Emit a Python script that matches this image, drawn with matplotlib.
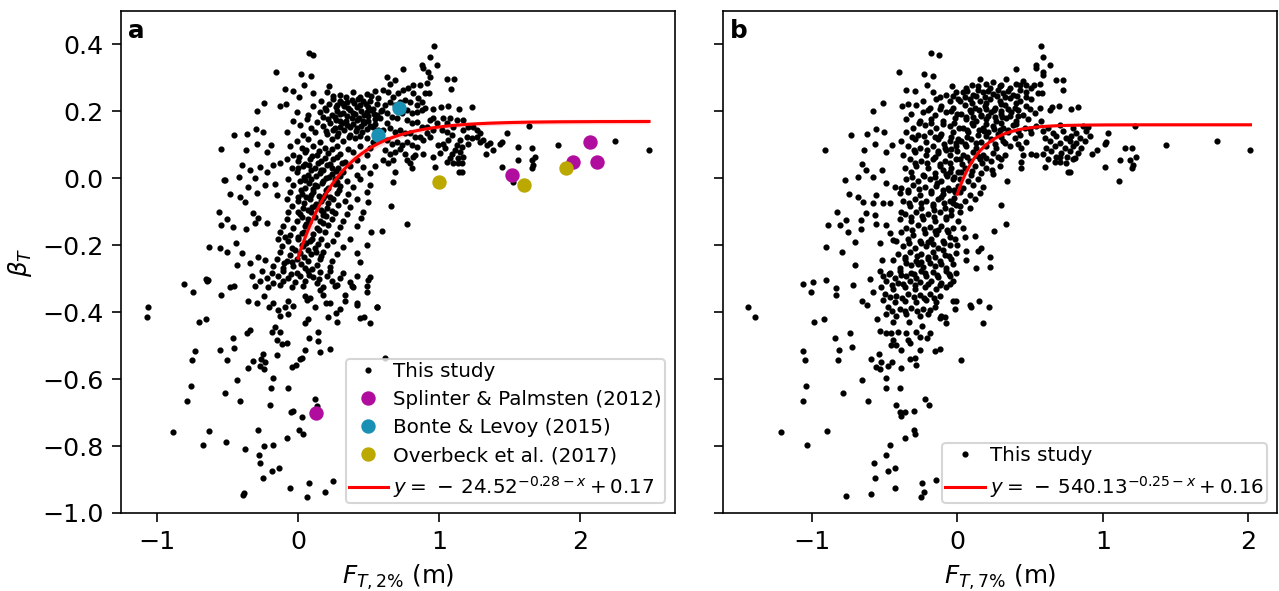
import numpy as np
import matplotlib
matplotlib.use('Agg')
import matplotlib.pyplot as plt

# ---- panel a data (F_T,2%, beta_T) ----
a_upper = [
(0.203,0.258),(0.297,0.249),(0.392,0.257),(0.487,0.251),(0.546,0.261),
(0.167,0.231),(0.25,0.238),(0.345,0.229),(0.427,0.236),(0.51,0.23),(0.569,0.239),
(0.108,0.217),(0.191,0.209),(0.274,0.218),(0.357,0.211),(0.439,0.219),(0.534,0.208),
(-0.01,0.197),(0.073,0.19),(0.156,0.198),(0.238,0.188),(0.321,0.196),(0.404,0.191),(0.487,0.199),(0.562,0.189),
(-0.034,0.171),(0.061,0.178),(0.132,0.169),(0.215,0.177),(0.297,0.171),(0.38,0.179),(0.463,0.17),(0.546,0.176),
(0.014,0.158),(0.096,0.15),(0.179,0.157),(0.262,0.149),(0.345,0.159),(0.416,0.151),(0.51,0.156),
(-0.081,0.137),(0.037,0.13),(0.12,0.138),(0.203,0.131),(0.286,0.136),(0.368,0.129),(0.451,0.139),
(-0.01,0.111),(0.073,0.118),(0.156,0.11),(0.238,0.117),(0.321,0.112),(0.404,0.119),(0.534,0.11),
(0.25,0.245),(0.34,0.243),(0.44,0.244),(0.52,0.246),(0.22,0.222),(0.31,0.224),(0.4,0.226),(0.48,0.221),
(0.56,0.223),(0.2,0.203),(0.28,0.201),(0.37,0.204),(0.45,0.2),(0.52,0.205),(0.59,0.2),(0.18,0.184),
(0.26,0.182),(0.35,0.186),(0.43,0.181),(0.5,0.185),(0.58,0.18),(0.23,0.164),(0.31,0.166),(0.39,0.162),
(0.47,0.165),(0.55,0.162),(0.25,0.143),(0.33,0.145),(0.41,0.142),(0.49,0.146),(0.57,0.144),(0.28,0.125),
(0.36,0.122),(0.44,0.126),(0.49,0.121),
(0.3,0.232),(0.38,0.234),(0.46,0.23),(0.27,0.213),(0.33,0.215),(0.42,0.212),(0.5,0.214),(0.3,0.192),
(0.39,0.194),(0.47,0.19),(0.54,0.193),(0.27,0.173),(0.34,0.172),(0.42,0.174),(0.5,0.171),(0.2,0.142),
(0.3,0.154),(0.37,0.153),(0.45,0.155),(0.53,0.152),
]
a_core = [
(-0.057,0.097),(0.026,0.09),(0.108,0.098),(0.191,0.091),(0.274,0.096),(0.357,0.089),(0.439,0.097),(0.51,0.092),
(-0.034,0.071),(0.049,0.078),(0.132,0.07),(0.215,0.077),(0.297,0.072),(0.392,0.079),(0.487,0.071),
(-0.081,0.058),(0.002,0.051),(0.085,0.057),(0.167,0.052),(0.25,0.059),(0.333,0.05),(0.416,0.056),
(-0.045,0.031),(0.037,0.038),(0.12,0.032),(0.203,0.039),(0.286,0.03),(0.368,0.037),(0.463,0.033),(0.546,0.038),
(-0.01,0.018),(0.073,0.011),(0.156,0.017),(0.238,0.012),(0.321,0.019),(0.416,0.01),(0.51,0.016),
(-0.069,-0.002),(0.014,-0.009),(0.096,-0.003),(0.179,-0.008),(0.262,-0.001),(0.345,-0.007),(0.439,-0.003),
(-0.034,-0.021),(0.049,-0.028),(0.132,-0.022),(0.215,-0.029),(0.297,-0.023),(0.392,-0.027),(0.51,-0.021),
(-0.057,-0.042),(0.026,-0.048),(0.108,-0.041),(0.191,-0.049),(0.274,-0.043),(0.357,-0.047),(0.487,-0.041),
(-0.081,-0.062),(0.002,-0.068),(0.085,-0.061),(0.167,-0.069),(0.25,-0.063),(0.333,-0.067),(0.416,-0.061),
(-0.045,-0.082),(0.037,-0.089),(0.12,-0.083),(0.203,-0.088),(0.286,-0.081),(0.368,-0.087),
(-0.069,-0.102),(0.014,-0.108),(0.096,-0.101),(0.179,-0.109),(0.262,-0.103),(0.345,-0.107),(0.463,-0.101),
(-0.081,-0.122),(-0.01,-0.128),(0.073,-0.121),(0.156,-0.129),(0.238,-0.123),(0.321,-0.127),
(-0.104,-0.141),(-0.034,-0.148),(0.049,-0.142),(0.132,-0.147),(0.215,-0.14),(0.297,-0.146),(0.416,-0.142),
(0.06,0.085),(0.15,0.083),(0.24,0.087),(0.01,0.064),(0.1,0.066),(0.19,0.062),(0.28,0.065),(0.05,0.044),
(0.14,0.046),(0.23,0.043),(0.31,0.047),(0.09,0.024),(0.18,0.026),(0.27,0.022),(0.04,0.005),(0.13,0.006),
(0.22,0.003),(0.3,0.007),(0.08,-0.015),(0.17,-0.013),(0.26,-0.017),(0.02,-0.035),(0.11,-0.033),(0.2,-0.036),
(0.29,-0.034),(0.06,-0.055),(0.15,-0.054),(0.23,-0.057),(0.04,-0.075),(0.13,-0.076),(0.21,-0.073),(0.07,-0.095),
(0.16,-0.094),(0.24,-0.097),(0.03,-0.115),(0.12,-0.116),(0.2,-0.113),(0.06,-0.135),(0.18,-0.134),
(0.0,0.03),(0.08,0.04),(0.16,0.025),(0.24,0.03),(0.05,-0.005),(0.12,-0.02),(0.2,0.0),(0.28,-0.01),
(0.0,-0.055),(0.09,-0.05),(0.18,-0.06),(0.1,-0.085),(0.18,-0.1),(0.0,-0.1),(0.08,-0.13),
]
a_tail = [
(-0.128,-0.161),(-0.057,-0.168),(0.026,-0.162),(0.108,-0.167),(0.191,-0.16),(0.274,-0.166),
(-0.14,-0.181),(-0.069,-0.188),(0.002,-0.182),(0.085,-0.187),(0.167,-0.18),(0.25,-0.186),(0.368,-0.182),
(-0.116,-0.201),(-0.045,-0.208),(0.037,-0.202),(0.12,-0.207),(0.203,-0.2),(0.321,-0.206),
(-0.128,-0.221),(-0.057,-0.228),(0.014,-0.222),(0.096,-0.227),(0.179,-0.22),(0.274,-0.226),(0.416,-0.222),
(-0.152,-0.241),(-0.081,-0.248),(-0.01,-0.242),(0.073,-0.247),(0.156,-0.24),(0.238,-0.246),
(-0.175,-0.261),(-0.104,-0.268),(-0.034,-0.262),(0.049,-0.267),(0.132,-0.26),(0.227,-0.266),
(-0.258,-0.276),(-0.187,-0.282),(-0.104,-0.277),(-0.01,-0.283),(0.073,-0.276),(0.156,-0.281),(0.227,-0.277),(0.321,-0.283),
(-0.329,-0.291),(-0.222,-0.297),(-0.14,-0.292),(-0.069,-0.298),(0.014,-0.291),(0.108,-0.296),(0.203,-0.292),(0.297,-0.297),(0.416,-0.291),(0.51,-0.296),
(-0.27,-0.306),(-0.175,-0.312),(-0.104,-0.307),(-0.021,-0.311),(0.049,-0.306),(0.132,-0.312),(0.238,-0.307),(0.368,-0.311),
(-0.305,-0.321),(-0.21,-0.326),(-0.128,-0.32),(-0.045,-0.325),(0.037,-0.321),(0.179,-0.326),(0.274,-0.32),(0.392,-0.325),(0.487,-0.321),
(-0.09,-0.174),(0.0,-0.176),(0.06,-0.194),(0.14,-0.196),(-0.02,-0.214),(0.07,-0.213),(0.16,-0.232),(-0.1,-0.254),
(0.02,-0.256),(0.1,-0.27),(-0.05,-0.286),(0.15,-0.302),
(0.15,-0.155),(0.04,-0.16),(0.1,-0.18),(0.03,-0.2),(0.13,-0.22),(0.04,-0.235),(-0.04,-0.25),(0.08,-0.29),
]
a_right = [
(0.967,0.395),(0.936,0.363),(0.984,0.339),(0.88,0.339),(0.889,0.331),(0.747,0.328),(0.924,0.318),(0.936,0.303),
(0.912,0.284),(0.865,0.279),(0.818,0.279),(0.90,0.254),(0.931,0.254),(1.055,0.296),(1.106,0.296),(1.085,0.266),
(1.236,0.214),(1.14,0.207),(1.066,0.217),(1.017,0.214),(0.96,0.207),(1.638,0.157),(1.846,0.099),(2.25,0.113),
(2.49,0.085),(1.48,0.136),(1.449,0.109),(1.43,0.104),(1.385,0.084),(1.336,0.073),(1.558,0.093),(1.657,0.09),
(1.679,0.064),(1.657,0.055),(1.562,0.055),(1.669,0.04),(1.657,0.03),(1.449,0.035),(1.527,-0.01),(0.96,0.064),
(0.97,0.035),(0.884,0.073),(0.83,0.07),(0.794,0.045),(0.806,0.03),(0.77,0.055),(0.686,0.02),(0.674,-0.01),
(0.658,-0.082),(0.77,-0.137),(0.593,-0.157),
(1.267,0.144),(1.291,0.134),(1.314,0.114),(1.243,0.154),(1.208,0.154),(1.173,0.144),(1.201,0.124),(1.149,0.114),
(1.125,0.099),(1.161,0.094),(1.114,0.084),(1.09,0.074),(1.149,0.079),(1.173,0.065),(1.137,0.06),(1.078,0.06),
(1.054,0.05),(1.097,0.047),(1.137,0.045),(1.161,0.045),(1.144,0.02),(1.161,0.02),(1.208,0.104),(1.232,0.119),
(1.267,0.124),(1.291,0.109),(1.066,0.114),(1.09,0.129),(1.054,0.139),(1.031,0.104),(1.043,0.09),(1.007,0.075),
(0.995,0.1),(1.019,0.144),(1.102,0.154),(1.054,0.164),(1.078,0.179),(1.031,0.179),(1.125,0.174),(1.173,0.174),
(0.983,0.164),(0.96,0.179),(0.936,0.174),(0.96,0.144),(0.936,0.124),(0.913,0.134),(1.338,0.099),(1.362,0.106),
(0.629,0.303),(0.652,0.283),(0.688,0.293),(0.605,0.264),(0.641,0.259),(0.676,0.244),(0.712,0.254),(0.747,0.264),
(0.783,0.269),(0.818,0.254),(0.853,0.239),(0.877,0.229),(0.842,0.219),(0.794,0.229),(0.759,0.234),(0.723,0.229),
(0.688,0.219),(0.653,0.229),(0.617,0.219),(0.593,0.204),(0.629,0.194),(0.664,0.184),(0.70,0.179),(0.735,0.194),
(0.771,0.204),(0.806,0.194),(0.842,0.199),(0.877,0.204),(0.901,0.209),(0.771,0.174),(0.806,0.164),(0.842,0.169),
(0.877,0.154),(0.913,0.154),(0.629,0.164),(0.605,0.144),(0.653,0.149),(0.688,0.139),(0.723,0.144),(0.759,0.134),
(0.794,0.134),(0.83,0.124),(0.865,0.124),(0.889,0.114),(0.629,0.114),(0.664,0.104),(0.70,0.109),(0.735,0.1),
(0.771,0.109),(0.806,0.1),(0.842,0.094),(0.617,0.084),(0.653,0.074),(0.688,0.079),(0.723,0.089),(0.759,0.074),
(0.818,0.064),(0.605,0.055),(0.641,0.045),(0.676,0.055),
]
a_left = [
(0.078,0.375),(0.104,0.369),(-0.156,0.317),(0.02,0.313),(0.09,0.306),(-0.092,0.266),(-0.035,0.261),(0.045,0.279),
(0.22,0.276),(0.106,0.254),(0.005,0.244),(-0.243,0.226),(-0.291,0.201),(-0.125,0.216),(-0.087,0.222),(-0.45,0.129),
(-0.36,0.131),(-0.30,0.146),(-0.25,0.139),(-0.548,0.087),(-0.37,0.084),(-0.29,0.104),(-0.22,0.079),(-0.19,0.099),
(-0.395,0.041),(-0.34,0.025),(-0.27,0.033),(-0.217,0.019),(-0.18,0.041),(-0.125,0.047),(-0.518,-0.005),(-0.418,0.005),
(-0.352,-0.025),(-0.307,0.0),(-0.289,-0.045),(-0.236,-0.02),(-0.165,-0.017),(-0.146,-0.05),(-0.482,-0.048),(-0.414,-0.055),
(-0.378,-0.07),(-0.562,-0.10),(-0.50,-0.122),(-0.543,-0.139),(-0.464,-0.146),(-0.317,-0.105),(-0.28,-0.119),(-0.366,-0.152),
(-0.307,-0.133),(-0.222,-0.134),(-0.631,-0.204),(-0.553,-0.209),(-0.501,-0.219),(-0.44,-0.192),(-0.40,-0.222),(-0.28,-0.234),
(-0.236,-0.244),(-0.343,-0.254),(-0.435,-0.259),(-0.652,-0.30),(-0.527,-0.005),
(0.5,-0.07),(0.49,-0.2),(0.44,-0.25),(0.45,-0.12),(0.52,-0.16),
]
a_bottom = [
(-0.806,-0.316),(-0.742,-0.341),(-0.648,-0.306),(-0.636,-0.304),(-0.548,-0.348),(-0.482,-0.325),(-0.454,-0.321),
(-1.062,-0.383),(-1.069,-0.415),(-0.704,-0.43),(-0.652,-0.419),(-0.553,-0.513),(-0.501,-0.542),(-0.452,-0.506),
(-0.459,-0.478),(-0.733,-0.516),(-0.754,-0.542),(-0.761,-0.62),(-0.785,-0.664),(-0.884,-0.759),(-0.672,-0.796),
(-0.629,-0.756),(-0.511,-0.788),(-0.516,-0.64),(-0.411,-0.664),(-0.435,-0.602),(-0.36,-0.463),(-0.34,-0.453),
(-0.352,-0.567),(-0.317,-0.547),(-0.265,-0.54),(-0.234,-0.55),(-0.27,-0.562),(-0.239,-0.57),(-0.246,-0.524),
(-0.376,-0.808),(-0.281,-0.753),(-0.274,-0.826),(-0.27,-0.851),(-0.241,-0.801),(-0.246,-0.896),(-0.175,-0.796),
(-0.187,-0.876),(-0.133,-0.866),(-0.388,-0.945),(-0.383,-0.94),(-0.199,-0.678),(-0.191,-0.627),(-0.175,-0.597),
(-0.071,-0.627),(-0.052,-0.697),(-0.038,-0.695),(0.031,-0.712),(0.009,-0.751),(0.038,-0.763),(-0.08,-0.776),
(0.121,-0.66),(0.133,-0.68),(-0.057,-0.924),(0.078,-0.909),(0.061,-0.952),(0.194,-0.938),(0.246,-0.903),
(-0.151,-0.527),(-0.08,-0.493),(-0.045,-0.564),(-0.014,-0.557),(0.014,-0.54),(0.026,-0.537),(0.05,-0.513),
(0.078,-0.476),(0.144,-0.485),(0.156,-0.518),(0.227,-0.51),(0.144,-0.46),(-0.163,-0.443),(-0.187,-0.458),
(-0.128,-0.458),(-0.151,-0.483),(-0.116,-0.495),(0.05,-0.433),(0.073,-0.421),(0.215,-0.413),(0.267,-0.403),
(0.274,-0.428),(0.298,-0.391),(0.333,-0.368),(0.416,-0.373),(0.511,-0.433),(0.487,-0.341),(0.499,-0.304),
(0.562,-0.383),(-0.352,-0.368),(-0.293,-0.373),(-0.241,-0.353),(-0.204,-0.385),(-0.144,-0.393),(-0.128,-0.411),
(-0.09,-0.383),(-0.071,-0.406),(-0.033,-0.381),(0.05,-0.353),(0.085,-0.358),(0.121,-0.385),(0.175,-0.348),
(0.227,-0.373),(0.156,-0.333),(0.262,-0.323),(0.381,-0.323),(0.421,-0.378),(0.468,-0.413),(-0.175,-0.373),
(-0.069,-0.368),(0.061,-0.365),(0.199,-0.373),(0.333,-0.348),(0.439,-0.418),(0.617,-0.536),(0.564,-0.385),
]

# literature points (panel a)
splinter_x = [1.52, 1.95, 2.07, 2.12, 0.13]
splinter_y = [0.01, 0.05, 0.11, 0.05, -0.70]
bonte_x = [0.57, 0.72]
bonte_y = [0.13, 0.21]
overbeck_x = [1.00, 1.60, 1.90]
overbeck_y = [-0.01, -0.02, 0.03]

# ---- panel b data (F_T,7%, beta_T) ----
b_upper = [
(0.154,0.296),(0.245,0.289),(0.337,0.297),(0.451,0.29),
(0.062,0.27),(0.142,0.277),(0.222,0.269),(0.291,0.276),(0.36,0.271),(0.428,0.278),(0.508,0.27),
(0.039,0.257),(0.108,0.25),(0.177,0.258),(0.245,0.251),(0.314,0.256),(0.383,0.249),(0.474,0.257),
(0.017,0.231),(0.085,0.238),(0.154,0.23),(0.222,0.237),(0.291,0.232),(0.36,0.239),(0.428,0.23),(0.508,0.236),
(0.051,0.218),(0.12,0.21),(0.188,0.217),(0.257,0.211),(0.325,0.219),(0.394,0.21),(0.474,0.216),(0.566,0.211),
(0.028,0.191),(0.097,0.198),(0.165,0.19),(0.234,0.197),(0.302,0.191),(0.371,0.199),(0.451,0.19),(0.531,0.196),
(0.062,0.178),(0.131,0.17),(0.2,0.177),(0.268,0.171),(0.337,0.179),(0.405,0.17),(0.486,0.176),(0.577,0.171),
(0.039,0.151),(0.108,0.158),(0.177,0.15),(0.245,0.157),(0.314,0.151),(0.383,0.159),(0.463,0.15),(0.543,0.156),
(0.074,0.138),(0.142,0.13),(0.211,0.137),(0.28,0.131),(0.348,0.139),(0.428,0.13),(0.508,0.136),
(0.028,0.111),(0.097,0.118),(0.165,0.11),(0.234,0.117),(0.314,0.111),(0.394,0.119),(0.474,0.11),
(0.062,0.098),(0.131,0.09),(0.2,0.097),(0.268,0.091),(0.36,0.098),(0.44,0.09),
(0.039,0.071),(0.108,0.078),(0.177,0.07),(0.245,0.077),(0.325,0.071),
(0.017,0.058),(0.085,0.051),(0.154,0.058),(0.234,0.052),(0.302,0.057),
(0.051,0.031),(0.12,0.038),(0.2,0.032),(0.291,0.037),
(0.028,0.018),(0.097,0.011),(0.165,0.017),(0.245,0.012),
(0.017,-0.002),(0.074,-0.009),(0.142,-0.003),
(0.039,-0.028),(0.108,-0.021),(0.177,-0.027),
(0.017,-0.042),(0.085,-0.049),(0.154,-0.043),
(0.051,-0.068),(0.12,-0.061),(0.017,-0.082),(0.085,-0.088),
(0.1,0.224),(0.2,0.226),(0.3,0.222),(0.4,0.225),(0.15,0.204),(0.25,0.203),(0.35,0.206),(0.06,0.184),
(0.16,0.186),(0.26,0.182),(0.36,0.185),(0.1,0.164),(0.2,0.163),(0.3,0.166),(0.4,0.162),(0.15,0.144),
(0.25,0.146),(0.35,0.143),(0.07,0.124),(0.2,0.125),(0.3,0.122),
(0.1,0.28),(0.2,0.283),(0.3,0.279),(0.4,0.282),(0.07,0.262),(0.14,0.264),(0.21,0.26),(0.28,0.263),
(0.35,0.261),(0.43,0.264),(0.05,0.244),(0.13,0.246),(0.19,0.242),(0.27,0.245),(0.33,0.243),(0.41,0.247),
(0.47,0.243),(0.09,0.204),(0.2,0.206),(0.3,0.202),(0.42,0.205),(0.5,0.207),(0.11,0.183),(0.21,0.186),
(0.31,0.184),(0.42,0.187),(0.07,0.143),(0.18,0.142),(0.29,0.145),(0.42,0.141),(0.5,0.146),(0.05,0.104),
(0.13,0.105),(0.26,0.102),(0.33,0.106),(0.42,0.103),(0.07,0.064),(0.14,0.066),(0.2,0.062),(0.28,0.065),
(0.03,0.044),(0.1,0.022),(0.17,0.045),(0.24,0.025),
]
b_mid = [
(-0.167,0.257),(-0.075,0.25),(-0.007,0.258),
(-0.235,0.231),(-0.144,0.238),(-0.052,0.23),(0.005,0.237),
(-0.281,0.218),(-0.19,0.21),(-0.109,0.217),(-0.029,0.211),
(-0.315,0.191),(-0.235,0.198),(-0.155,0.19),(-0.075,0.197),(-0.002,0.191),
(-0.35,0.178),(-0.258,0.17),(-0.178,0.177),(-0.098,0.171),(-0.018,0.179),
(-0.304,0.151),(-0.224,0.158),(-0.144,0.15),(-0.052,0.157),(0.012,0.151),
(-0.35,0.138),(-0.27,0.13),(-0.19,0.137),(-0.109,0.131),(-0.029,0.139),
(-0.384,0.111),(-0.293,0.118),(-0.212,0.11),(-0.132,0.117),(-0.052,0.111),(0.005,0.118),
(-0.338,0.098),(-0.258,0.09),(-0.167,0.097),(-0.086,0.091),(-0.007,0.098),
(-0.373,0.071),(-0.293,0.078),(-0.212,0.07),(-0.132,0.077),(-0.052,0.071),
(-0.327,0.058),(-0.247,0.051),(-0.167,0.058),(-0.086,0.052),(-0.007,0.057),
(-0.361,0.031),(-0.281,0.038),(-0.201,0.032),(-0.121,0.037),(-0.041,0.031),
(-0.315,0.018),(-0.235,0.011),(-0.155,0.017),(-0.075,0.012),(0.005,0.019),
(-0.35,-0.002),(-0.27,-0.009),(-0.19,-0.003),(-0.109,-0.008),(-0.029,-0.001),
(-0.384,-0.028),(-0.304,-0.021),(-0.224,-0.027),(-0.144,-0.022),(-0.064,-0.029),(0.005,-0.023),
(-0.338,-0.042),(-0.258,-0.049),(-0.178,-0.043),(-0.098,-0.048),(-0.018,-0.041),
(-0.373,-0.068),(-0.293,-0.061),(-0.212,-0.067),(-0.132,-0.062),(-0.052,-0.069),
(-0.327,-0.082),(-0.247,-0.089),(-0.167,-0.083),(-0.086,-0.088),(-0.007,-0.081),
(-0.361,-0.108),(-0.281,-0.101),(-0.201,-0.107),(-0.121,-0.102),(-0.041,-0.109),
(-0.395,-0.122),(-0.315,-0.129),(-0.235,-0.123),(-0.155,-0.128),(-0.075,-0.121),(0.005,-0.127),
(-0.35,-0.147),(-0.27,-0.14),(-0.19,-0.146),(-0.109,-0.141),(-0.029,-0.148),
(-0.384,-0.161),(-0.304,-0.168),(-0.224,-0.162),(-0.144,-0.167),(-0.064,-0.16),
(-0.418,-0.187),(-0.338,-0.18),(-0.258,-0.186),(-0.178,-0.181),(-0.098,-0.188),(-0.018,-0.182),
(-0.373,-0.201),(-0.293,-0.208),(-0.212,-0.202),(-0.132,-0.207),(-0.052,-0.2),
(-0.407,-0.227),(-0.327,-0.22),(-0.247,-0.226),(-0.167,-0.221),(-0.086,-0.228),(-0.007,-0.222),
(-0.361,-0.241),(-0.281,-0.248),(-0.201,-0.242),(-0.121,-0.247),(-0.041,-0.24),
(-0.395,-0.267),(-0.315,-0.26),(-0.235,-0.266),(-0.155,-0.261),(-0.075,-0.268),
(-0.12,0.125),(-0.04,0.124),(-0.08,0.085),(0.0,0.083),(-0.15,0.064),(-0.05,0.045),(-0.1,0.025),(-0.02,0.005),
(-0.14,-0.015),(-0.06,-0.035),(-0.11,-0.055),(-0.03,-0.075),(-0.16,-0.095),(-0.08,-0.115),(-0.13,-0.155),
(-0.05,-0.175),(-0.2,-0.19),(-0.1,-0.215),(-0.25,-0.25),(-0.15,-0.235),
(-0.12,0.244),(-0.03,0.246),(-0.2,0.204),(-0.12,0.206),(-0.04,0.202),(-0.26,0.164),(-0.18,0.166),(-0.1,0.162),
(-0.02,0.165),(-0.31,0.124),(-0.23,0.126),(-0.15,0.122),(-0.09,0.104),(-0.01,0.105),(-0.3,0.084),(-0.21,0.086),
(-0.13,0.082),(-0.04,0.087),(-0.29,0.045),(-0.21,0.047),(-0.12,0.043),(-0.05,0.02),(-0.31,0.005),(-0.23,0.007),
(-0.15,0.003),(-0.07,0.006),(-0.34,-0.035),(-0.26,-0.033),(-0.18,-0.037),(-0.1,-0.034),(-0.02,-0.036),
(-0.33,-0.075),(-0.25,-0.073),(-0.17,-0.077),(-0.09,-0.074),(-0.02,-0.06),(-0.32,-0.115),(-0.24,-0.113),
(-0.16,-0.117),(-0.04,-0.095),(-0.31,-0.154),(-0.23,-0.152),(-0.15,-0.156),(-0.07,-0.153),(0.02,-0.1),
(-0.33,-0.194),(-0.25,-0.192),(-0.17,-0.196),(-0.09,-0.193),(0.0,-0.2),(-0.36,-0.234),(-0.28,-0.232),
(-0.2,-0.236),(-0.06,-0.233),(-0.35,-0.254),(-0.27,-0.256),(-0.19,-0.252),(-0.11,-0.255),(-0.03,-0.257),
]
b_low = [
(-0.533,-0.276),(-0.464,-0.282),(-0.395,-0.277),(-0.315,-0.283),(-0.247,-0.276),(-0.167,-0.281),(-0.075,-0.277),(-0.007,-0.283),
(-0.51,-0.291),(-0.43,-0.297),(-0.35,-0.292),(-0.281,-0.298),(-0.212,-0.291),(-0.132,-0.296),(-0.052,-0.292),
(-0.487,-0.306),(-0.407,-0.312),(-0.327,-0.307),(-0.258,-0.311),(-0.178,-0.306),(-0.109,-0.312),(-0.029,-0.307),
(-0.521,-0.325),(-0.441,-0.331),(-0.361,-0.326),(-0.293,-0.331),(-0.224,-0.325),(-0.144,-0.33),(-0.075,-0.326),
(-0.498,-0.345),(-0.418,-0.351),(-0.338,-0.346),(-0.258,-0.35),(-0.19,-0.345),(-0.121,-0.351),
(-0.51,-0.365),(-0.43,-0.371),(-0.361,-0.366),(-0.281,-0.37),(-0.212,-0.365),(-0.144,-0.371),
(-0.475,-0.385),(-0.395,-0.391),(-0.315,-0.386),(-0.235,-0.39),(-0.155,-0.385),
(-0.487,-0.405),(-0.418,-0.411),(-0.35,-0.406),(-0.258,-0.41),(-0.201,-0.405),(-0.109,-0.411),
(-0.47,-0.285),(-0.39,-0.288),(-0.3,-0.286),(-0.22,-0.284),(-0.14,-0.288),(-0.06,-0.285),
(-0.45,-0.318),(-0.37,-0.316),(-0.29,-0.32),(-0.2,-0.317),(-0.12,-0.319),(-0.05,-0.316),
(-0.46,-0.356),(-0.38,-0.358),(-0.3,-0.355),(-0.23,-0.357),(-0.16,-0.359),
(-0.45,-0.395),(-0.36,-0.397),(-0.28,-0.396),(-0.19,-0.394),
(-0.6,-0.3),(-0.58,-0.34),(-0.62,-0.38),(-0.55,-0.42),(-0.44,-0.43),(-0.33,-0.43),(-0.24,-0.44),
]
b_right = [
(0.623,0.151),(0.703,0.158),(0.794,0.15),(0.863,0.157),(0.897,0.152),
(0.588,0.142),(0.657,0.136),(0.726,0.141),(0.817,0.135),(0.886,0.142),
(0.6,0.121),(0.68,0.127),(0.749,0.12),(0.783,0.126),(0.84,0.121),(0.909,0.127),
(0.634,0.112),(0.703,0.106),(0.771,0.111),(0.817,0.105),(0.874,0.112),
(0.611,0.091),(0.669,0.097),(0.737,0.09),(0.794,0.096),(0.852,0.091),
(0.646,0.082),(0.714,0.076),(0.771,0.081),(0.829,0.075),
(0.623,0.057),(0.68,0.063),(0.794,0.058),
(0.577,0.395),(0.588,0.363),(0.634,0.339),(0.543,0.339),(0.538,0.331),(0.405,0.328),(0.588,0.318),(0.588,0.308),
(0.566,0.283),(0.524,0.278),(0.474,0.278),(0.554,0.254),(0.584,0.254),(0.675,0.295),(0.726,0.295),(0.726,0.265),
(0.829,0.212),(0.778,0.207),(0.696,0.217),(0.648,0.212),(0.634,0.204),(1.224,0.157),(1.435,0.099),(1.785,0.113),
(2.014,0.085),(1.035,0.134),(1.023,0.109),(1.018,0.104),(0.961,0.084),(0.925,0.074),(1.149,0.092),(1.2,0.09),
(1.229,0.063),(1.188,0.055),(1.115,0.055),(1.206,0.04),(1.2,0.03),(1.016,0.035),(1.11,-0.007),(0.6,0.035),
(0.668,0.05),(0.703,0.05),(0.76,0.02),(0.771,0.02),(0.749,0.045),(0.806,0.06),(0.753,0.065),(0.703,0.065),
(0.588,0.074),(0.543,0.07),(0.508,0.073),(0.451,0.07),(0.44,0.05),(0.435,0.03),(0.339,-0.007),(0.302,-0.08),
(0.332,-0.137),(0.252,-0.157),(0.165,-0.209),(0.222,-0.234),(0.222,-0.264),(0.131,-0.269),(0.062,-0.244),
(0.12,-0.172),(0.051,-0.174),(0.039,-0.149),(0.062,-0.216),(0.142,-0.216),
]
b_left = [
(-0.18,0.375),(-0.125,0.369),(-0.404,0.317),(-0.228,0.313),(-0.167,0.306),(-0.354,0.265),(-0.288,0.26),(-0.206,0.278),
(-0.034,0.276),(-0.51,0.226),(-0.578,0.201),(-0.377,0.216),(-0.338,0.222),(-0.727,0.128),(-0.622,0.131),(-0.556,0.147),
(-0.503,0.138),(-0.912,0.086),(-0.642,0.084),(-0.565,0.104),(-0.487,0.079),(-0.45,0.101),(-0.652,0.042),(-0.679,0.005),
(-0.624,0.025),(-0.578,0.005),(-0.519,0.025),(-0.487,-0.015),(-0.775,-0.005),(-0.743,-0.048),(-0.681,-0.057),(-0.647,-0.07),
(-0.578,-0.075),(-0.51,-0.075),(-0.464,-0.075),(-0.826,-0.10),(-0.766,-0.125),(-0.807,-0.139),(-0.89,-0.139),(-0.748,-0.159),
(-0.704,-0.189),(-0.903,-0.206),(-0.793,-0.219),(-0.706,-0.26),(-0.659,-0.15),(-0.624,-0.105),(-0.567,-0.11),(-0.659,-0.125),
(-0.556,-0.135),(-0.487,-0.14),(-0.441,-0.184),(-0.533,-0.194),(-0.464,-0.164),(-0.514,-0.244),(-0.441,-0.244),(-0.384,-0.10),
(-0.395,-0.045),(-0.556,-0.05),(-0.43,-0.025),
]
b_bottom = [
(-1.063,-0.316),(-0.99,-0.309),(-0.903,-0.304),(-1.008,-0.341),(-0.835,-0.328),(-0.83,-0.348),(-0.716,-0.32),(-0.652,-0.368),
(-1.436,-0.385),(-1.388,-0.415),(-0.983,-0.43),(-0.915,-0.419),(-1.059,-0.515),(-1.045,-0.542),(-0.812,-0.513),(-0.819,-0.542),
(-0.839,-0.478),(-0.734,-0.463),(-0.723,-0.505),(-1.04,-0.62),(-1.059,-0.664),(-1.212,-0.759),(-1.036,-0.796),(-0.894,-0.756),
(-0.784,-0.64),(-0.652,-0.602),(-0.617,-0.664),(-0.537,-0.525),(-0.59,-0.54),(-0.521,-0.55),(-0.556,-0.564),(-0.533,-0.569),
(-0.475,-0.562),(-0.446,-0.55),(-0.384,-0.567),(-0.487,-0.597),(-0.487,-0.627),(-0.391,-0.627),
(-0.533,-0.456),(-0.487,-0.463),(-0.453,-0.463),(-0.407,-0.458),(-0.35,-0.461),(-0.441,-0.483),(-0.453,-0.498),(-0.418,-0.498),
(-0.338,-0.483),(-0.327,-0.493),(-0.281,-0.458),(-0.258,-0.473),(-0.208,-0.478),(-0.19,-0.461),(-0.155,-0.517),(-0.121,-0.51),
(-0.322,-0.54),(-0.293,-0.537),(-0.281,-0.557),(-0.258,-0.512),(-0.384,-0.512),
(-0.418,-0.677),(-0.395,-0.697),(-0.384,-0.711),(-0.361,-0.697),(-0.297,-0.694),(-0.224,-0.66),(-0.194,-0.677),(-0.3,-0.751),
(-0.293,-0.764),(-0.361,-0.776),(-0.46,-0.796),(-0.487,-0.826),(-0.572,-0.851),(-0.475,-0.876),(-0.427,-0.866),(-0.567,-0.896),
(-0.43,-0.925),(-0.59,-0.942),(-0.766,-0.948),(-0.24,-0.91),(-0.231,-0.938),(-0.247,-0.953),(-0.144,-0.902),(0.027,-0.542),
(-0.018,-0.391),(-0.086,-0.413),(-0.079,-0.433),(-0.116,-0.418),(-0.029,-0.368),(-0.007,-0.368),(0.146,-0.368),(0.179,-0.433),
(0.216,-0.383),(0.089,-0.378),(0.095,-0.385),
]

# fitted curves y = -a^(-b - x) + c
fit_a = (24.52, 0.28, 0.17)
fit_b = (540.13, 0.25, 0.16)
xticks = [-1, 0, 1, 2]
yticks = [-1.0, -0.8, -0.6, -0.4, -0.2, 0.0, 0.2, 0.4]


def fitfunc(x, a, b, c):
    return -a ** (-b - x) + c


dpi = 148
fig, (ax1, ax2) = plt.subplots(1, 2, sharey=True, figsize=(1279 / dpi, 591 / dpi), dpi=dpi)
fig.subplots_adjust(left=0.0946, right=0.9984, bottom=0.132, top=0.9814, wspace=0.0866)

tick_fs = 12.3
lab_fs = 12
leg_fs = 9.7
leg_kw = dict(loc='lower right', fontsize=leg_fs, borderpad=0.15, handletextpad=0.25,
              labelspacing=0.45, borderaxespad=0.5)

# panel a
pa = np.array(a_upper + a_core + a_tail + a_right + a_left + a_bottom)
ax1.plot(pa[:, 0], pa[:, 1], 'k.', ms=4, label='This study')
ax1.plot(splinter_x, splinter_y, 'o', color='#b00c9e', ms=6, label='Splinter & Palmsten (2012)')
ax1.plot(bonte_x, bonte_y, 'o', color='#1a90b4', ms=6, label='Bonte & Levoy (2015)')
ax1.plot(overbeck_x, overbeck_y, 'o', color='#bba800', ms=6, label='Overbeck et al. (2017)')
xf = np.linspace(0, pa[:, 0].max(), 300)
a, b, c = fit_a
ax1.fill_between(xf, fitfunc(xf, a, b - 0.02, c - 0.007), fitfunc(xf, a, b + 0.02, c + 0.007),
                 color='red', alpha=0.15, lw=0)
ax1.plot(xf, fitfunc(xf, a, b, c), 'r-', label=r'$y = \,-\, 24.52^{-0.28 - x} + 0.17$')
ax1.legend(**leg_kw)
ax1.set_xlabel(r'$F_{T,2\%}$ (m)', fontsize=lab_fs)
ax1.set_ylabel(r'$\beta_T$', fontsize=lab_fs)
ax1.set_xlim(-1.255, 2.674)
ax1.set_ylim(-1.0, 0.5)
ax1.set_xticks(xticks)
ax1.set_yticks(yticks)
ax1.tick_params(labelsize=tick_fs, length=4.5, pad=4)
ax1.text(0.012, 0.985, 'a', transform=ax1.transAxes, fontweight='bold', va='top', ha='left', fontsize=12)

# panel b
pb = np.array(b_upper + b_mid + b_low + b_right + b_left + b_bottom)
ax2.plot(pb[:, 0], pb[:, 1], 'k.', ms=4, label='This study')
xf = np.linspace(0, pb[:, 0].max(), 300)
a, b, c = fit_b
ax2.fill_between(xf, fitfunc(xf, a, b - 0.01, c - 0.004), fitfunc(xf, a, b + 0.01, c + 0.004),
                 color='red', alpha=0.15, lw=0)
ax2.plot(xf, fitfunc(xf, a, b, c), 'r-', label=r'$y = \,-\, 540.13^{-0.25 - x} + 0.16$')
ax2.legend(**leg_kw)
ax2.set_xlabel(r'$F_{T,7\%}$ (m)', fontsize=lab_fs)
ax2.set_xlim(-1.61, 2.196)
ax2.set_xticks(xticks)
ax2.tick_params(labelsize=tick_fs, length=4.5, pad=4)
ax2.text(0.012, 0.985, 'b', transform=ax2.transAxes, fontweight='bold', va='top', ha='left', fontsize=12)

plt.savefig('out.png', dpi=dpi)
